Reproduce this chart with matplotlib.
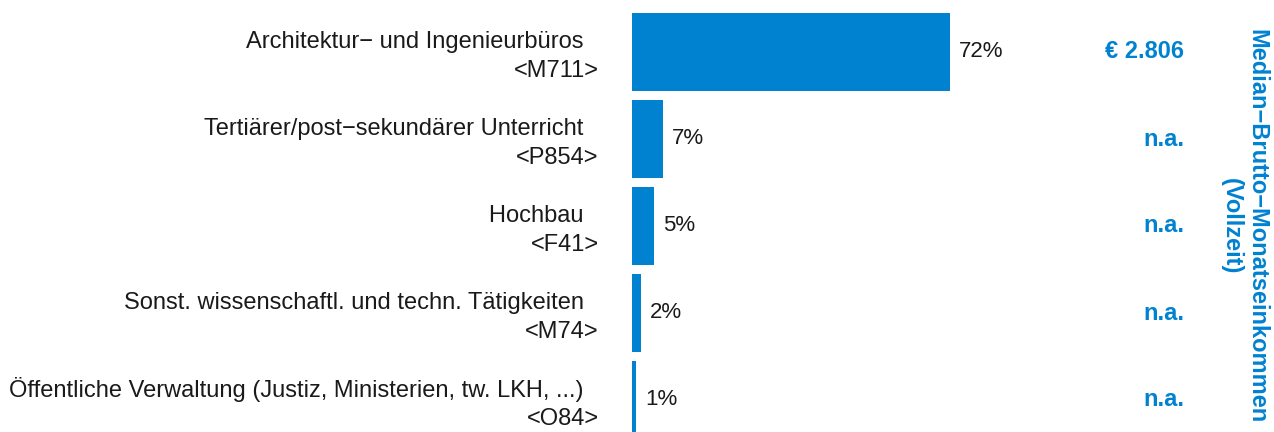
import matplotlib
matplotlib.use("Agg")
import matplotlib.pyplot as plt

plt.rcParams['font.family'] = ['Liberation Sans', 'DejaVu Sans']

names = ["Architektur\u2212 und Ingenieurbüros",
         "Tertiärer/post\u2212sekundärer Unterricht",
         "Hochbau",
         "Sonst. wissenschaftl. und techn. Tätigkeiten",
         "Öffentliche Verwaltung (Justiz, Ministerien, tw. LKH, ...)"]
codes = ["<M711>", "<P854>", "<F41>", "<M74>", "<O84>"]
shares = [72, 7, 5, 2, 1]
incomes = ["€ 2.806", "n.a.", "n.a.", "n.a.", "n.a."]

blue = "#0082D1"
ink = "#1a1a1a"
W, H = 1274, 432

fig = plt.figure(figsize=(W / 100, H / 100), dpi=100)
# axes: left edge at the bar origin, full height
ax = fig.add_axes([632 / W, 0, 1 - 632 / W, 1])
px_per_pct = 4.42
pitch = 87
ax.set_xlim(0, (W - 632) / px_per_pct)
ax.set_ylim((H - 52) / pitch, -52 / pitch)
ax.axis("off")

ys = list(range(len(shares)))
ax.barh(ys, shares, height=0.9, color=blue)

for y, v in zip(ys, shares):
    ax.annotate(f"{v}%", (v, y), xytext=(6.5, 0), textcoords="offset points",
                ha="left", va="center", fontsize=16, color=ink)

# category labels (two lines, right aligned)
for y, n, c in zip(ys, names, codes):
    ax.annotate(n + " ", (0, y), xytext=(-30, 7.5), textcoords="offset points",
                ha="right", va="center", fontsize=17, color=ink,
                annotation_clip=False)
    ax.annotate(c, (0, y), xytext=(-24, -14), textcoords="offset points",
                ha="right", va="center", fontsize=17, color=ink,
                annotation_clip=False)

# income column
for y, t in zip(ys, incomes):
    ax.text(1184 / W, 1 - (52 + y * pitch) / H, t, transform=fig.transFigure,
            ha="right", va="center", fontsize=17, fontweight="bold", color=blue)

fig.text(1244 / W, 1 - 226 / H, "Median\u2212Brutto\u2212Monatseinkommen\n(Vollzeit)",
         rotation=-90, ha="center", va="center", multialignment="center",
         fontsize=17, fontweight="bold", color=blue, linespacing=1.1)

fig.savefig("out.png", dpi=100)
